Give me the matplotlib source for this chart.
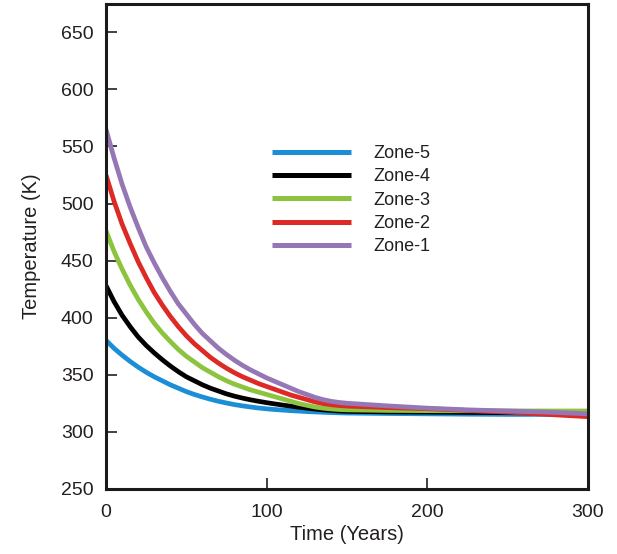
import matplotlib
matplotlib.use('Agg')
import matplotlib.pyplot as plt

# time grid (years) and temperatures (K)
years = [0, 5, 10, 15, 20, 25, 30, 35, 40, 45, 50, 55, 60, 65, 70, 75, 80, 85,
         90, 95, 100, 105, 110, 115, 120, 125, 130, 135, 140, 145, 150,
         175, 200, 225, 250, 275, 300]
zone5 = [380, 373, 367, 361.5, 356.5, 352, 348, 344.5, 341, 338, 335, 332.5,
         330.3, 328.3, 326.5, 325, 323.6, 322.5, 321.5, 320.6, 319.9, 319.3,
         318.8, 318.3, 317.9, 317.5, 317.2, 316.9, 316.6, 316.4, 316.2,
         315.8, 315.5, 315.2, 315, 315, 315]
zone4 = [428, 414, 402, 392, 383, 375.5, 369, 363, 357.5, 352.5, 348, 344.5,
         341, 338, 335.5, 333, 331, 329.3, 327.8, 326.5, 325.3, 324.2, 323.2,
         322.2, 321.3, 320.5, 319.7, 319, 318.5, 318, 317.7,
         317.2, 317, 316.7, 316.5, 316.2, 316]
zone3 = [476, 458, 442.5, 428.5, 416, 405, 395, 386.5, 379, 372, 366, 361,
         356, 352, 348, 344.5, 341.5, 339, 336.5, 334.5, 332.5, 330.5, 328.5,
         326.5, 324.5, 323, 321.5, 320.5, 319.8, 319.3, 319,
         318.5, 318.3, 318.2, 318.1, 318, 318]
zone2 = [525, 502, 482, 465, 449, 435, 422, 411, 401, 392, 384, 377, 371,
         365, 360, 355.5, 351.5, 348, 345, 342, 339.5, 337, 334.5, 332, 330,
         328, 326, 324.5, 323.5, 322.8, 322.3,
         321, 320, 318.5, 317, 315, 313]
zone1 = [565, 540, 517, 497, 479, 462, 448, 435, 423, 412, 403, 394, 386,
         379.5, 373, 367.5, 362.5, 358, 354, 350.5, 347, 344, 341, 338, 335,
         332.5, 330, 328, 326.5, 325.5, 324.8,
         322.5, 320.5, 319, 318, 317, 315.5]

series = [('Zone-5', zone5, '#1b8ed6'),
          ('Zone-4', zone4, '#000000'),
          ('Zone-3', zone3, '#8dc43f'),
          ('Zone-2', zone2, '#de2a26'),
          ('Zone-1', zone1, '#9677b5')]

plt.rcParams['font.family'] = ['Liberation Sans', 'DejaVu Sans']
text_color = '#231f20'

fig = plt.figure(figsize=(6.17, 5.54), dpi=100)
ax = fig.add_axes([0.1718, 0.1182, 0.7812, 0.8746])

for name, vals, col in series:
    ax.plot(years, vals, color=col, lw=3.4, label=name,
            solid_capstyle='butt', solid_joinstyle='round')

ax.set_xlim(0, 300)
ax.set_ylim(250, 675)
ax.set_xticks([0, 100, 200, 300])
ax.set_yticks(range(250, 651, 50))
ax.tick_params(direction='in', length=8, width=1.2, labelsize=14,
               labelcolor=text_color, color=text_color)
ax.tick_params(axis='x', pad=11)
ax.tick_params(axis='y', pad=9)
for s in ax.spines.values():
    s.set_linewidth(2.2)
    s.set_color('#1a1a1a')

ax.set_xlabel('Time (Years)', fontsize=14.5, color=text_color, labelpad=3)
ax.set_ylabel('Temperature (K)', fontsize=14.5, color=text_color, labelpad=14)

leg = ax.legend(loc='upper left', bbox_to_anchor=(0.344, 0.709), frameon=False,
                fontsize=13, handlelength=4.4, handletextpad=1.2,
                labelspacing=0.35, borderpad=0, borderaxespad=0)
for line in leg.get_lines():
    line.set_linewidth(3.6)
for t in leg.get_texts():
    t.set_color(text_color)

fig.savefig('out.png', dpi=100)
